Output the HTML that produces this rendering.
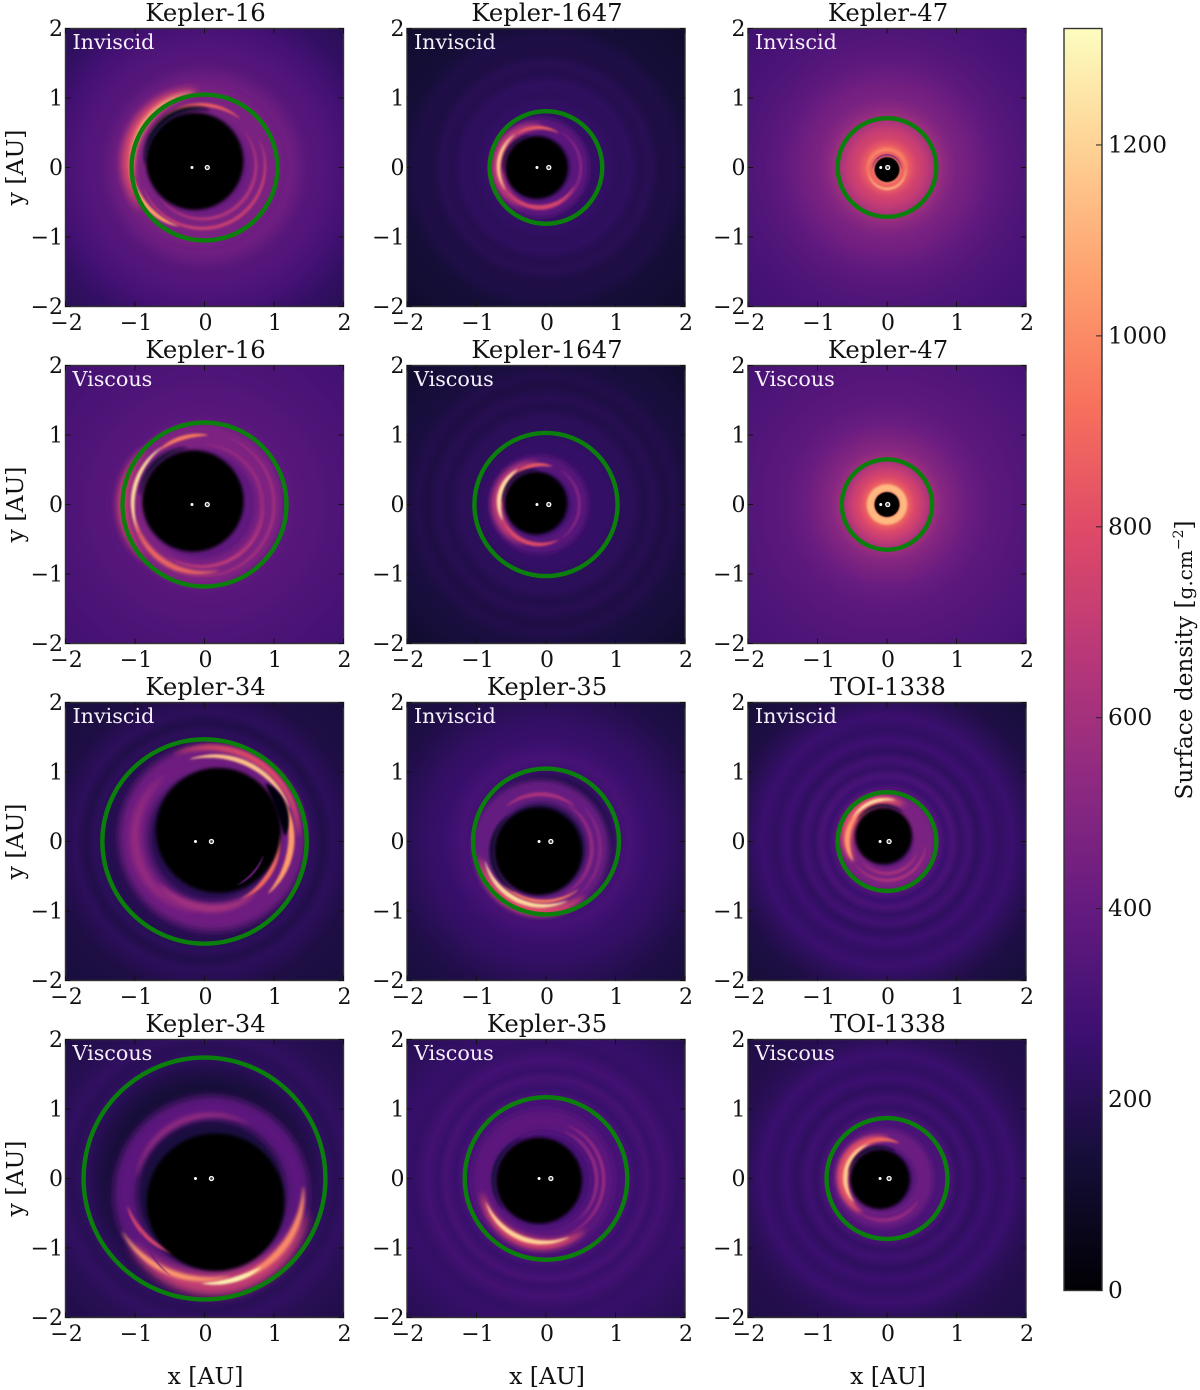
<!DOCTYPE html>
<html>
<head>
<meta charset="utf-8">
<title>Surface density maps</title>
<style>
html,body{margin:0;padding:0;background:#fff;width:1200px;height:1390px;overflow:hidden}
svg{display:block}
text{font-family:"DejaVu Serif","Liberation Serif",serif;fill:#111}
</style>
</head>
<body>
<svg id="chart" xmlns="http://www.w3.org/2000/svg" width="1200" height="1390" viewBox="0 0 1200 1390"></svg>
<script>
// ---- data ----
const panelTitles = ['Kepler-16','Kepler-1647','Kepler-47','Kepler-16','Kepler-1647','Kepler-47','Kepler-34','Kepler-35','TOI-1338','Kepler-34','Kepler-35','TOI-1338'];
const panelModes = ['Inviscid','Inviscid','Inviscid','Viscous','Viscous','Viscous','Inviscid','Inviscid','Inviscid','Viscous','Viscous','Viscous'];
const ringRadii = [1.05,0.81,0.71,1.18,1.03,0.65,1.47,1.05,0.71,1.74,1.17,0.87];
const holeX = [-0.14,-0.135,0,-0.165,-0.145,0,0.2,-0.11,-0.05,0.16,-0.1,-0.1];
const holeY = [0.09,0,-0.03,0.05,0.02,0,0.16,-0.14,0.08,-0.34,-0.03,-0.01];
const holeR = [0.7,0.45,0.18,0.73,0.45,0.18,0.9,0.63,0.41,0.99,0.62,0.43];
const primaryX = [-0.18,-0.13,-0.09,-0.18,-0.13,-0.09,-0.13,-0.1,-0.1,-0.13,-0.1,-0.1];
const secondaryX = [0.04,0.04,0.01,0.04,0.04,0.01,0.1,0.07,0.03,0.1,0.07,0.03];
const tickValues = [-2,-1,0,1,2];
const colorbarTicks = [0,200,400,600,800,1000,1200];
const colorbarMax = 1322;
const magmaColors = ['#000004','#140e36','#3b0f70','#641a80','#8c2981','#b73779','#de4968','#f7705c','#fe9f6d','#fecf92','#fcfdbf'];
// radial density profile of each panel: [radius AU, density]
const profiles = [
 [[0,400],[1.0,420],[1.25,430],[1.5,350],[1.75,335],[1.9,315],[2.1,290],[2.4,240],[2.83,200]],
 [[0,230],[0.9,235],[1.05,215],[1.2,225],[1.35,190],[1.5,200],[1.65,165],[1.85,170],[2.1,135],[2.4,130],[2.83,105]],
 [[0,800],[0.25,1000],[0.32,850],[0.42,760],[0.55,700],[0.7,600],[0.85,520],[1.0,470],[1.2,440],[1.5,380],[1.8,345],[2.1,320],[2.83,280]],
 [[0,400],[1.2,370],[1.35,350],[1.6,345],[1.9,325],[2.2,315],[2.83,285]],
 [[0,250],[0.9,240],[1.1,210],[1.25,210],[1.4,180],[1.55,195],[1.7,165],[1.85,180],[2.05,150],[2.3,145],[2.83,105]],
 [[0,820],[0.23,1000],[0.3,880],[0.4,780],[0.52,700],[0.65,590],[0.8,510],[1.0,460],[1.2,410],[1.5,370],[1.9,345],[2.83,300]],
 [[0,190],[1.4,190],[1.58,215],[1.7,175],[1.85,215],[2.0,195],[2.2,165],[2.83,150]],
 [[0,170],[0.9,170],[1.05,275],[1.2,300],[1.45,255],[1.7,240],[2.0,205],[2.3,170],[2.83,145]],
 [[0,330],[0.75,330],[0.85,260],[0.95,310],[1.05,240],[1.18,285],[1.3,225],[1.45,270],[1.6,235],[1.8,260],[2.0,215],[2.3,165],[2.83,140]],
 [[0,170],[1.3,135],[1.5,165],[1.75,225],[1.9,205],[2.05,230],[2.3,200],[2.83,170]],
 [[0,300],[1.0,295],[1.2,300],[1.3,255],[1.45,300],[1.55,250],[1.7,290],[1.9,240],[2.1,250],[2.4,225],[2.83,195]],
 [[0,320],[0.9,310],[1.02,240],[1.15,275],[1.3,225],[1.45,265],[1.6,235],[1.8,260],[2.0,215],[2.3,185],[2.83,170]]
];
// spiral features: [centreX, centreY, radiusStart, radiusEnd, angleStart, angleEnd, width AU, density, blur px, flat]
const armsUnder = [
 [[-0.06,0.03,0.93,0.93,0,360,0.4,470,4,1],[0,0.02,1.1,1.1,95,215,0.2,800,4],[-0.02,0.03,1.06,1.02,95,190,0.07,1120,2],[-0.04,0.03,0.87,0.87,50,150,0.06,860,1],[-0.05,0,1.03,0.9,175,250,0.07,1050,1],[-0.03,0.03,0.91,0.9,200,385,0.05,720,1],[-0.03,0.03,0.77,0.77,215,400,0.05,640,1]],
 [[-0.1,0,0.58,0.58,0,360,0.28,370,3,1],[-0.1,0,0.6,0.6,85,250,0.17,700,3],[-0.1,0,0.59,0.58,125,215,0.05,1180,1],[-0.1,0,0.57,0.58,60,125,0.05,860,1],[-0.1,0,0.57,0.58,215,335,0.07,760,1],[-0.1,0,0.6,0.6,300,420,0.04,520,1]],
 [[0,-0.03,0.25,0.25,185,365,0.08,1180,1],[0,-0.03,0.23,0.23,0,360,0.07,880,1,1]],
 [[-0.05,0,0.98,0.98,0,360,0.38,480,3,1],[-0.05,0,1.13,1.13,135,225,0.14,760,4],[-0.03,0,1.0,1.0,85,130,0.06,950,1],[-0.03,0,1.01,1.0,125,205,0.06,1220,1],[-0.03,0,1.0,0.98,190,285,0.08,900,1.5],[-0.03,0,0.9,0.88,235,360,0.05,680,1],[-0.03,0,1.03,1.03,250,430,0.05,580,1],[-0.03,0,0.86,0.86,300,450,0.05,560,1]],
 [[-0.1,0,0.58,0.58,0,360,0.26,350,3,1],[-0.1,0,0.6,0.6,90,250,0.16,700,3],[-0.1,0,0.59,0.57,120,205,0.07,1230,1],[-0.1,0,0.58,0.56,70,125,0.05,860,1],[-0.1,0,0.56,0.58,200,300,0.06,800,1],[-0.1,0,0.58,0.58,300,420,0.04,520,1]],
 [[0,0,0.24,0.24,0,360,0.1,1130,1,1]],
 [[0.12,0.06,1.14,1.14,0,360,0.42,430,4,1],[0.1,0.05,1.32,1.25,115,0,0.1,800,2],[0.08,0.05,1.17,1.22,105,20,0.07,1150,1],[0.1,0.05,1.16,1.14,30,-45,0.09,1050,1],[0.1,0.05,0.97,0.98,5,-65,0.07,900,1],[0.1,0.05,1.12,1.08,125,260,0.13,560,3],[0.1,0.05,1.0,1.02,220,310,0.12,600,2]],
 [[-0.08,-0.1,0.82,0.82,0,360,0.34,400,3,1],[-0.05,-0.05,0.93,0.95,190,310,0.16,800,3],[-0.05,-0.05,0.86,0.88,195,295,0.07,1220,1],[-0.05,-0.05,0.8,0.82,225,310,0.05,960,1],[-0.08,-0.1,0.74,0.74,295,420,0.05,560,1],[-0.08,-0.1,0.86,0.86,310,405,0.05,500,1],[-0.08,-0.1,0.78,0.78,50,130,0.06,620,1]],
 [[0,0,0.53,0.53,0,360,0.34,470,3,1],[-0.02,0.03,0.56,0.56,60,215,0.2,830,3],[-0.02,0.03,0.58,0.56,75,150,0.05,1250,1],[-0.02,0.03,0.54,0.56,135,215,0.07,1050,1],[0,0,0.56,0.56,215,355,0.04,640,1],[0,0,0.46,0.46,220,340,0.04,620,1]],
 [[0.1,-0.22,1.24,1.24,0,360,0.34,370,4,1],[0.1,-0.1,1.42,1.42,215,345,0.32,720,5],[0.1,-0.1,1.32,1.4,0,-80,0.1,1000,1.5],[0.15,-0.1,1.35,1.42,300,262,0.07,1290,1],[0.02,-0.05,1.4,1.4,210,285,0.08,1050,1.5],[-0.05,-0.1,1.1,1.05,195,250,0.06,760,1],[0.1,-0.2,1.12,1.1,60,170,0.09,540,2]],
 [[-0.04,-0.02,0.86,0.86,0,360,0.33,370,4,1],[-0.02,-0.03,0.92,0.92,190,310,0.16,780,3],[-0.03,-0.03,0.89,0.89,200,295,0.07,1200,1],[-0.02,-0.02,0.85,0.85,295,430,0.05,560,1],[-0.02,-0.02,0.75,0.75,310,430,0.05,540,1]],
 [[-0.05,0,0.58,0.58,0,360,0.26,420,3,1],[-0.06,0,0.58,0.58,80,240,0.17,820,2],[-0.06,0,0.54,0.54,110,220,0.07,1180,1],[-0.06,0,0.56,0.56,65,120,0.05,900,1],[-0.06,0,0.6,0.6,235,330,0.05,560,1]]
];
const armsOver = [
 [[-0.1,0.1,0.75,0.75,75,185,0.1,90,1.5]],
 [[-0.135,0,0.48,0.48,100,190,0.04,120,1]],
 [[0,-0.03,0.21,0.21,0,180,0.02,400,0.5]],
 [[-0.165,0.05,0.77,0.77,95,175,0.07,110,1.5]],
 [[-0.145,0.02,0.48,0.48,85,180,0.04,110,1]],
 [],
 [[0.2,0.16,0.96,0.96,-5,45,0.16,30,1],[0.1,0.05,0.79,0.77,-18,-62,0.03,420,0.5]],
 [[-0.11,-0.14,0.67,0.67,130,240,0.07,120,1]],
 [[-0.05,0.08,0.44,0.44,50,150,0.04,130,1]],
 [[0.2,-0.45,1.15,1.17,195,235,0.02,400,0.5]],
 [[-0.1,-0.03,0.66,0.66,110,220,0.05,140,1]],
 [[-0.1,-0.01,0.46,0.46,60,170,0.05,120,1]]
];

// ---- scales ----
const panelCentersX = [204.5,546,887];
const panelCentersY = [167.5,504.5,841.5,1178.5];
const PX = 69.5;
const HALF = 139;
const xScale = (col,v) => panelCentersX[col] + v*PX;
const yScale = (row,v) => panelCentersY[row] - v*PX;
const cbTop = 28.5, cbBottom = 1290.5, cbLeft = 1064, cbRight = 1102;
const cbScale = v => cbBottom - (v/colorbarMax)*(cbBottom-cbTop);
function magma(v){
  const t = Math.max(0,Math.min(1,v/colorbarMax))*(magmaColors.length-1);
  const i = Math.min(magmaColors.length-2,Math.floor(t));
  const f = t-i;
  const a = magmaColors[i], b = magmaColors[i+1];
  const ch = k => Math.round(parseInt(a.substr(k,2),16)*(1-f)+parseInt(b.substr(k,2),16)*f);
  return 'rgb('+ch(1)+','+ch(3)+','+ch(5)+')';
}
const svg = document.getElementById('chart');
const NS = 'http://www.w3.org/2000/svg';
function mk(tag,attrs,parent){
  const n = document.createElementNS(NS,tag);
  for(const k in attrs) n.setAttribute(k,attrs[k]);
  (parent||svg).appendChild(n);
  return n;
}
const defs = mk('defs',{});
const blurIds = {};
function blurId(b){
  if(!blurIds[b]){
    const id = 'blur'+String(b).replace('.','_');
    const f = mk('filter',{id:id,x:'-30%',y:'-30%',width:'160%',height:'160%'},defs);
    mk('feGaussianBlur',{stdDeviation:b},f);
    blurIds[b]=id;
  }
  return blurIds[b];
}
function armPath(a,cx,cy){
  const [ax,ay,r0,r1,t0,t1,w,,,flat] = a;
  const n = Math.max(8,Math.round(Math.abs(t1-t0)/3));
  const outer=[],inner=[];
  for(let i=0;i<=n;i++){
    const u=i/n, th=(t0+(t1-t0)*u)*Math.PI/180, r=r0+(r1-r0)*u;
    const ww=(flat?w:w*Math.pow(Math.sin(Math.PI*u),0.7))/2;
    outer.push([cx+(ax+(r+ww)*Math.cos(th))*PX, cy-(ay+(r+ww)*Math.sin(th))*PX]);
    inner.unshift([cx+(ax+(r-ww)*Math.cos(th))*PX, cy-(ay+(r-ww)*Math.sin(th))*PX]);
  }
  return 'M'+outer.concat(inner).map(p=>p[0].toFixed(1)+','+p[1].toFixed(1)).join('L')+'Z';
}
function drawArm(a,cx,cy,parent,name){
  const attrs={d:armPath(a,cx,cy),fill:magma(a[7]),'fill-rule':'evenodd'};
  if(a[8]) attrs.filter='url(#'+blurId(a[8])+')';
  const arm = mk('path',attrs,parent);
  
  
}

// ---- panels ----
panelTitles.forEach((title,i)=>{
  const col=i%3, row=Math.floor(i/3);
  const cx=xScale(col,0), cy=yScale(row,0);
  const group = mk('g',{});
  
  

  const clip = mk('clipPath',{id:'clip'+i},defs);
  mk('rect',{x:cx-HALF,y:cy-HALF,width:2*HALF,height:2*HALF},clip);
  const grad = mk('radialGradient',{id:'bg'+i,gradientUnits:'userSpaceOnUse',cx:cx,cy:cy,r:2.83*PX},defs);
  profiles[i].forEach(p=>mk('stop',{offset:(p[0]/2.83).toFixed(4),'stop-color':magma(p[1])},grad));

  const image = mk('g',{'clip-path':'url(#clip'+i+')'},group);
  
  
  const bg = mk('rect',{x:cx-HALF,y:cy-HALF,width:2*HALF,height:2*HALF,fill:'url(#bg'+i+')'},image);
  
  
  armsUnder[i].forEach(a=>drawArm(a,cx,cy,image,'spiral-feature'));
  const hole = mk('circle',{cx:xScale(col,holeX[i]),cy:yScale(row,holeY[i]),r:holeR[i]*PX,fill:'#000004',filter:'url(#'+blurId(holeR[i]<0.3?0.5:1.5)+')'},image);
  
  
  armsOver[i].forEach(a=>drawArm(a,cx,cy,image,'cavity-streamer'));

  const ring = mk('circle',{cx:cx,cy:cy,r:ringRadii[i]*PX,fill:'none',stroke:'#0b7f0b','stroke-width':4.4},image);
  
  
  const s1 = mk('circle',{cx:xScale(col,primaryX[i]),cy:cy,r:1.5,fill:'#fff'},image);
  
  
  const s2 = mk('circle',{cx:xScale(col,secondaryX[i]),cy:cy,r:2,fill:'#444',stroke:'#fff','stroke-width':1.3},image);
  
  

  const frame = mk('rect',{x:cx-HALF,y:cy-HALF,width:2*HALF,height:2*HALF,fill:'none',stroke:'#333','stroke-width':1.4},group);
  
  

  tickValues.forEach(v=>{
    const x=xScale(col,v), y=yScale(row,v), L=5;
    const tk = mk('path',{d:'M'+x+','+(cy+HALF)+'v-'+L+'M'+x+','+(cy-HALF)+'v'+L+'M'+(cx-HALF)+','+y+'h'+L+'M'+(cx+HALF)+','+y+'h-'+L,stroke:'#111','stroke-width':1,fill:'none'},group);
    
    
    const label = String(v).replace('-','\u2212');
    const xt = mk('text',{x:x+1,y:cy+HALF+23.5,'font-size':22,'text-anchor':'middle'},group);
    xt.textContent = label;
    
    
    const yt = mk('text',{x:cx-HALF-2.5,y:y+7.5,'font-size':22,'text-anchor':'end'},group);
    yt.textContent = label;
    
    
  });

  const tt = mk('text',{x:cx+1,y:cy-HALF-7.5,'font-size':24.3,'text-anchor':'middle'},group);
  tt.textContent = title;
  
  
  const md = mk('text',{x:cx-HALF+7,y:cy-HALF+20.5,'font-size':20.7,style:'fill:#f6f0fa'},group);
  md.textContent = panelModes[i];
  
  
  if(col===0){
    const yl = mk('text',{transform:'translate(23,'+cy+') rotate(-90)','font-size':23.5,'text-anchor':'middle'},group);
    yl.textContent = 'y [AU]';
    
    
  }
  if(row===3){
    const xl = mk('text',{x:cx+1,y:1384,'font-size':23.5,'text-anchor':'middle'},group);
    xl.textContent = 'x [AU]';
    
    
  }
});

// ---- colorbar ----
const cbGrad = mk('linearGradient',{id:'cbGrad',x1:0,y1:1,x2:0,y2:0},defs);
magmaColors.forEach((c,i)=>mk('stop',{offset:i/(magmaColors.length-1),'stop-color':c},cbGrad));
const cbGroup = mk('g',{});


const cbRect = mk('rect',{x:cbLeft,y:cbTop,width:cbRight-cbLeft,height:cbBottom-cbTop,fill:'url(#cbGrad)',stroke:'#333','stroke-width':1.4},cbGroup);


colorbarTicks.forEach(v=>{
  const y=cbScale(v);
  const tick = mk('line',{x1:cbRight-6,x2:cbRight,y1:y,y2:y,stroke:'#222','stroke-width':1},cbGroup);
  
  
  const lab = mk('text',{x:1108,y:y+7.5,'font-size':23.2},cbGroup);
  lab.textContent = String(v);
  
  
});
const cbTitle = mk('text',{transform:'translate(1192,660) rotate(-90)','font-size':23.2,'text-anchor':'middle'},cbGroup);


cbTitle.appendChild(document.createTextNode('Surface density ['));
const cbUnit = mk('tspan',{'font-size':20},cbTitle);
cbUnit.textContent = 'g.cm';
const cbSup = mk('tspan',{'font-size':14,dy:-9},cbTitle);
cbSup.textContent = '\u22122';
const cbEnd = mk('tspan',{dy:9},cbTitle);
cbEnd.textContent = ']';
</script>
</body>
</html>
